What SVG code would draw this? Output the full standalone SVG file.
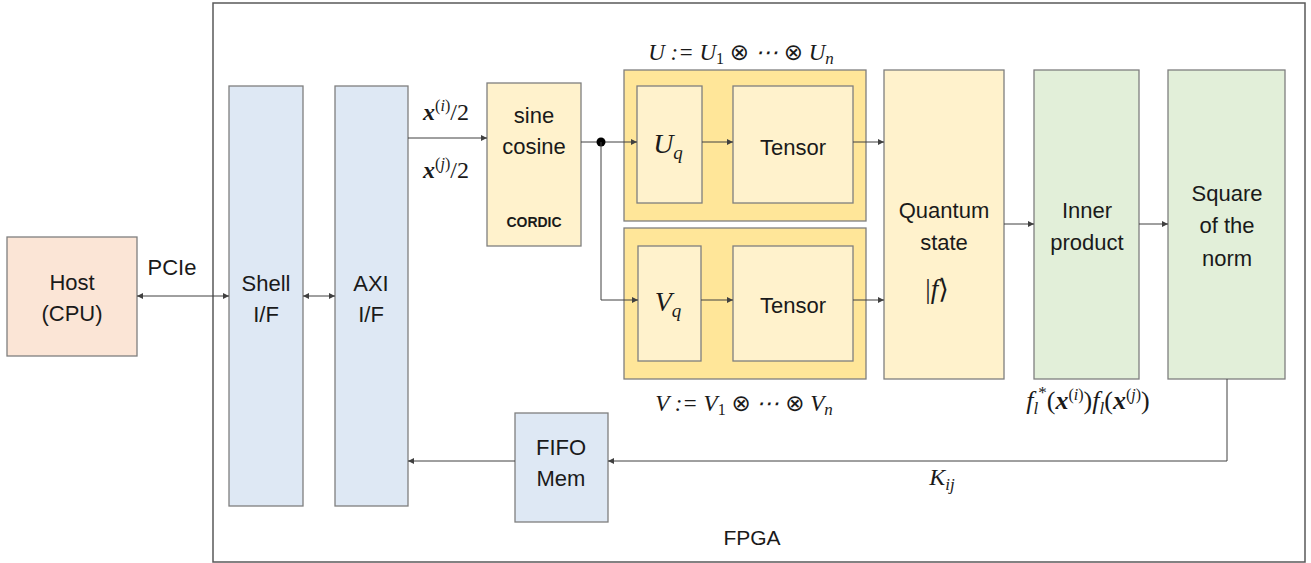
<svg xmlns="http://www.w3.org/2000/svg" width="1311" height="563" viewBox="0 0 1311 563">
<style>
.box{stroke:#7f7f7f;stroke-width:1.3}
.host{fill:#fbe5d6}
.blue{fill:#dee8f4}
.yel{fill:#fff2cc}
.gold{fill:#ffe699}
.grn{fill:#e2efd9}
.t{font-family:"Liberation Sans",Arial,sans-serif;font-size:22px;fill:#1a1a1a;text-anchor:middle}
.m{font-family:"Liberation Serif","DejaVu Serif",serif;font-style:italic;font-size:23px;fill:#1a1a1a;text-anchor:middle}
.o{font-family:"DejaVu Sans",sans-serif;font-style:normal;font-weight:normal}
.c{fill:none;stroke:#404040;stroke-width:1}
</style>
<defs>
<marker id="ah" markerWidth="6" markerHeight="6" refX="6" refY="3" orient="auto-start-reverse" markerUnits="userSpaceOnUse">
<path d="M0,0 L6,3 L0,6 z" fill="#404040"/>
</marker>
</defs>
<g id="fpga">
<rect x="213" y="3" width="1092" height="559" fill="#ffffff" stroke="#595959" stroke-width="1.5"/>
<text class="t" x="752" y="545" style="font-size:21px">FPGA</text>
</g>
<g id="host">
<rect class="box host" x="7" y="237" width="130" height="119"/>
<text class="t" x="72" y="290">Host</text>
<text class="t" x="72" y="321">(CPU)</text>
</g>
<g id="shell">
<rect class="box blue" x="229" y="86" width="74" height="420"/>
<text class="t" x="266" y="291">Shell</text>
<text class="t" x="266" y="322">I/F</text>
</g>
<g id="axi">
<rect class="box blue" x="335" y="86" width="73" height="420"/>
<text class="t" x="371" y="291">AXI</text>
<text class="t" x="371" y="322">I/F</text>
</g>
<g id="sincos">
<rect class="box yel" x="487" y="83" width="94" height="163"/>
<text class="t" x="534" y="123">sine</text>
<text class="t" x="534" y="154">cosine</text>
<text class="t" x="534" y="227" style="font-size:14px;font-weight:bold">CORDIC</text>
</g>
<g id="ublock">
<rect class="box gold" x="624" y="70" width="242" height="151"/>
<rect class="box yel" x="637" y="86" width="65" height="117"/>
<text class="m" x="668" y="153" style="font-size:28px">U<tspan dy="6" font-size="19">q</tspan></text>
<rect class="box yel" x="733" y="86" width="120" height="117"/>
<text class="t" x="793" y="155">Tensor</text>
<text class="m" x="741" y="60">U := U<tspan dy="4" font-size="16" font-style="normal">1</tspan><tspan dy="-4"> </tspan><tspan class="o">⊗</tspan><tspan> ⋯ </tspan><tspan class="o">⊗</tspan><tspan> U</tspan><tspan dy="4" font-size="17">n</tspan></text>
</g>
<g id="vblock">
<rect class="box gold" x="624" y="228" width="242" height="151"/>
<rect class="box yel" x="638" y="246" width="63" height="115"/>
<text class="m" x="668" y="311" style="font-size:28px">V<tspan dy="6" font-size="19">q</tspan></text>
<rect class="box yel" x="733" y="246" width="120" height="115"/>
<text class="t" x="793" y="313">Tensor</text>
<text class="m" x="744" y="411">V := V<tspan dy="4" font-size="16" font-style="normal">1</tspan><tspan dy="-4"> </tspan><tspan class="o">⊗</tspan><tspan> ⋯ </tspan><tspan class="o">⊗</tspan><tspan> V</tspan><tspan dy="4" font-size="17">n</tspan></text>
</g>
<g id="quantum">
<rect class="box yel" x="884" y="70" width="120" height="309"/>
<text class="t" x="944" y="218">Quantum</text>
<text class="t" x="944" y="250">state</text>
<text class="m" x="937" y="298" style="font-size:27px"><tspan font-style="normal">|</tspan>f<tspan font-style="normal">⟩</tspan></text>
</g>
<g id="inner">
<rect class="box grn" x="1034" y="70" width="105" height="309"/>
<text class="t" x="1087" y="218">Inner</text>
<text class="t" x="1087" y="250">product</text>
<text class="m" x="1088" y="409" style="font-size:26px">f<tspan dy="5" font-size="17">l</tspan><tspan dy="-16" font-size="17" font-style="normal">*</tspan><tspan dy="11" font-style="normal">(</tspan><tspan font-weight="bold">x</tspan><tspan dy="-9" font-size="16" font-style="normal">(</tspan><tspan font-size="16">i</tspan><tspan font-size="16" font-style="normal">)</tspan><tspan dy="9" font-style="normal">)</tspan>f<tspan dy="5" font-size="17">l</tspan><tspan dy="-5" font-style="normal">(</tspan><tspan font-weight="bold">x</tspan><tspan dy="-9" font-size="16" font-style="normal">(</tspan><tspan font-size="16">j</tspan><tspan font-size="16" font-style="normal">)</tspan><tspan dy="9" font-style="normal">)</tspan></text>
</g>
<g id="square">
<rect class="box grn" x="1168" y="70" width="117" height="309"/>
<text class="t" x="1227" y="201">Square</text>
<text class="t" x="1227" y="233">of the</text>
<text class="t" x="1227" y="266">norm</text>
</g>
<g id="fifo">
<rect class="box blue" x="515" y="413" width="93" height="109"/>
<text class="t" x="561" y="455">FIFO</text>
<text class="t" x="561" y="486">Mem</text>
</g>
<g id="connectors">
<line class="c" x1="137" y1="296" x2="229" y2="296" marker-start="url(#ah)" marker-end="url(#ah)"/>
<text class="t" x="172" y="275">PCIe</text>
<line class="c" x1="303" y1="296" x2="335" y2="296" marker-start="url(#ah)" marker-end="url(#ah)"/>
<line class="c" x1="408" y1="138" x2="487" y2="138" marker-end="url(#ah)"/>
<text class="m" x="446" y="120" style="font-size:24px"><tspan font-weight="bold">x</tspan><tspan dy="-9" font-size="16" font-style="normal">(</tspan><tspan font-size="16">i</tspan><tspan font-size="16" font-style="normal">)</tspan><tspan dy="9" font-style="normal">/2</tspan></text>
<text class="m" x="446" y="178" style="font-size:24px"><tspan font-weight="bold">x</tspan><tspan dy="-9" font-size="16" font-style="normal">(</tspan><tspan font-size="16">j</tspan><tspan font-size="16" font-style="normal">)</tspan><tspan dy="9" font-style="normal">/2</tspan></text>
<line class="c" x1="581" y1="142" x2="637" y2="142" marker-end="url(#ah)"/>
<circle cx="601" cy="142" r="4.5" fill="#000"/>
<polyline class="c" points="601,142 601,300 638,300" marker-end="url(#ah)"/>
<line class="c" x1="702" y1="142" x2="733" y2="142" marker-end="url(#ah)"/>
<line class="c" x1="853" y1="142" x2="884" y2="142" marker-end="url(#ah)"/>
<line class="c" x1="701" y1="300" x2="733" y2="300" marker-end="url(#ah)"/>
<line class="c" x1="853" y1="300" x2="884" y2="300" marker-end="url(#ah)"/>
<line class="c" x1="1004" y1="224" x2="1034" y2="224" marker-end="url(#ah)"/>
<line class="c" x1="1139" y1="224" x2="1168" y2="224" marker-end="url(#ah)"/>
<polyline class="c" points="1227,379 1227,461 608,461" marker-end="url(#ah)"/>
<text class="m" x="942" y="485" style="font-size:24px">K<tspan dy="5" font-size="17">ij</tspan></text>
<line class="c" x1="515" y1="461" x2="408" y2="461" marker-end="url(#ah)"/>
</g>
</svg>
